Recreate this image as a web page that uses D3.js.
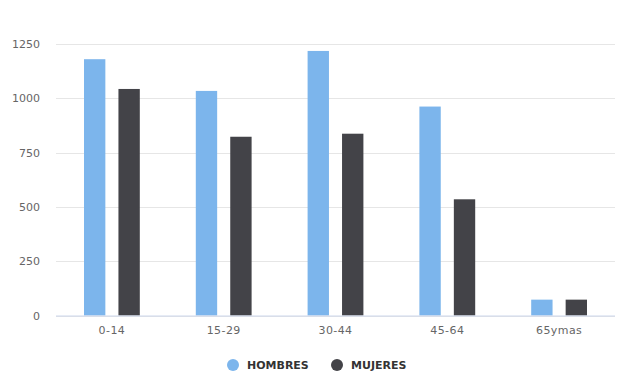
<!DOCTYPE html>
<html>
<head>
<meta charset="utf-8">
<script src="https://cdn.jsdelivr.net/npm/d3@7"></script>
<style>
  body { margin: 0; background: #fff; }
  svg { display: block; font-family: "DejaVu Sans", sans-serif; }
  svg text { font-family: "DejaVu Sans", sans-serif; }
</style>
</head>
<body>
<div id="chart"></div>
<script>
const categories = ["0-14", "15-29", "30-44", "45-64", "65ymas"]
const series = ["HOMBRES", "MUJERES"]
const hombres = [1180, 1034, 1218, 962, 73]
const mujeres = [1043, 823, 837, 535, 73]
const yTicks = [0, 250, 500, 750, 1000, 1250]
const colors = ["#7cb5ec", "#434348"]

const width = 627
const height = 376
const margin = {top: 44, right: 12, bottom: 60.5, left: 56}
const plotW = width - margin.left - margin.right
const plotH = height - margin.top - margin.bottom

const data = categories.map(function(c, i) {
    return {cat: c, values: [hombres[i], mujeres[i]]}
})

const svg = d3.select("#chart")
    .append("svg")
    .attr("width", width)
    .attr("height", height)

const g = svg.append("g")
    .attr("transform", "translate(" + margin.left + "," + margin.top + ")")

var x0 = d3.scaleBand()
    .domain(categories)
    .range([0, plotW])

var x1 = d3.scaleBand()
    .domain(series)
    .range([28, x0.bandwidth() - 28])
    .paddingInner(0.38)

var y = d3.scaleLinear()
    .domain([0, 1250])
    .range([plotH, 0])

// grid lines
g.append("g")
    .selectAll("line")
    .data(yTicks)
    .enter()
    .append("line")
    .attr("x1", 0)
    .attr("x2", plotW)
    .attr("y1", function(d) { return Math.round(y(d)) + 0.5 })
    .attr("y2", function(d) { return Math.round(y(d)) + 0.5 })
    .attr("stroke", "#e6e6e6")

// y labels
g.append("g")
    .call(d3.axisLeft(y).tickValues(yTicks).tickFormat(d3.format("d")).tickSize(0).tickPadding(16))
    .call(function(a) { a.select(".domain").remove() })
    .selectAll("text")
    .attr("fill", "#666")
    .style("font-size", "11px")

// bars
const groups = g.selectAll(".grp")
    .data(data)
    .enter()
    .append("g")
    .attr("transform", function(d) { return "translate(" + x0(d.cat) + ",0)" })

groups.selectAll("rect")
    .data(function(d) { return d.values.map(function(v, i) { return {s: series[i], v: v, i: i} }) })
    .enter()
    .append("rect")
    .attr("x", function(d) { return x1(d.s) })
    .attr("y", function(d) { return y(d.v) })
    .attr("width", x1.bandwidth())
    .attr("height", function(d) { return plotH - y(d.v) })
    .attr("fill", function(d) { return colors[d.i] })

// x axis
const xa = g.append("g")
    .attr("transform", "translate(0," + plotH + ")")
    .call(d3.axisBottom(x0).tickSize(0).tickPadding(11))
xa.select(".domain").attr("stroke", "#ccd6eb").attr("d", "M0,0.5H" + plotW)
xa.selectAll("text")
    .attr("fill", "#666")
    .style("font-size", "11px")
    .style("letter-spacing", "0.4px")

// legend
const legend = svg.append("g")
    .attr("transform", "translate(0,365)")
const legX = [233, 337]
series.forEach(function(s, i) {
    legend.append("circle")
        .attr("cx", legX[i])
        .attr("cy", 0)
        .attr("r", 6)
        .attr("fill", colors[i])
    legend.append("text")
        .attr("x", legX[i] + 14)
        .attr("y", 4)
        .attr("fill", "#333")
        .style("font-size", "11px")
        .style("font-weight", "bold")
        .text(s)
})
</script>
</body>
</html>
